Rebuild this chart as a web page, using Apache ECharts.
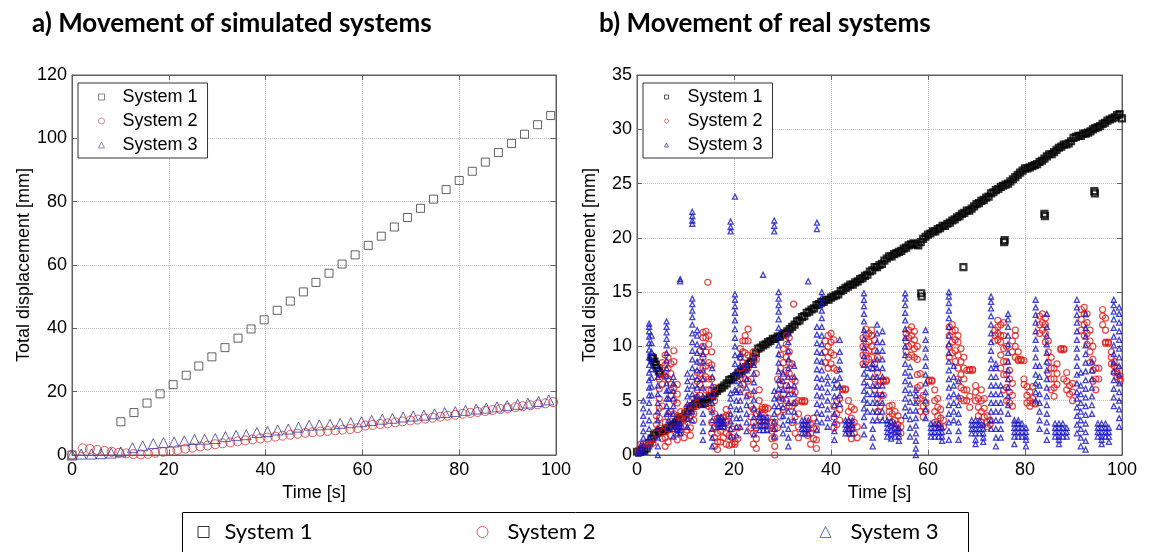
<!DOCTYPE html>
<html><head><meta charset="utf-8">
<script src="https://cdn.jsdelivr.net/npm/echarts@6/dist/echarts.min.js"></script>
<style>html,body{margin:0;padding:0;background:#fff}#c{width:1152px;height:552px}</style>
</head><body><div id="c"></div>
<script>
// ---------- Data: a) simulated systems ----------
const simX1 = [0, 10.1, 12.8, 15.5, 18.2, 20.9, 23.6, 26.2, 28.9, 31.6, 34.3, 37.0, 39.7, 42.4, 45.1, 47.8, 50.4, 53.1, 55.8, 58.5, 61.2, 63.9, 66.6, 69.3, 72.0, 74.7, 77.3, 80.0, 82.7, 85.4, 88.1, 90.8, 93.5, 96.2, 98.9];
const simY1 = [0, 10.5, 13.4, 16.4, 19.3, 22.2, 25.2, 28.1, 31.0, 33.9, 36.9, 39.8, 42.7, 45.7, 48.6, 51.5, 54.5, 57.4, 60.3, 63.2, 66.2, 69.1, 72.0, 75.0, 77.9, 80.8, 83.8, 86.7, 89.6, 92.5, 95.5, 98.4, 101.3, 104.3, 107.2];
const simX2 = [0, 2.2, 3.7, 5.2, 6.7, 8.2, 9.7, 11.2, 12.7, 14.2, 15.7, 17.2, 18.8, 20.3, 21.8, 23.4, 24.9, 26.5, 28.0, 29.6, 31.1, 32.7, 34.2, 35.8, 37.3, 38.9, 40.4, 42.0, 43.5, 45.1, 46.6, 48.2, 49.7, 51.3, 52.8, 54.4, 55.9, 57.5, 59.0, 60.6, 62.1, 63.7, 65.2, 66.8, 68.3, 69.9, 71.4, 73.0, 74.5, 76.1, 77.6, 79.2, 80.7, 82.3, 83.8, 85.4, 86.9, 88.5, 90.0, 91.6, 93.1, 94.7, 96.2, 97.8, 99.4];
const simY2 = [0, 2.1, 1.9, 1.6, 1.3, 1.0, 0.7, 0.5, 0.3, 0.2, 0.4, 0.7, 1.0, 1.3, 1.6, 2.0, 2.3, 2.7, 3.0, 3.4, 3.7, 4.0, 4.3, 4.6, 4.9, 5.2, 5.5, 5.8, 6.1, 6.4, 6.7, 7.0, 7.2, 7.4, 7.6, 7.8, 8.0, 8.2, 8.5, 9.3, 9.5, 9.8, 10.0, 10.3, 10.6, 10.9, 11.2, 11.5, 11.8, 12.1, 12.4, 12.7, 13.0, 13.3, 13.6, 13.9, 14.2, 14.5, 14.8, 15.1, 15.4, 15.7, 16.0, 16.3, 16.7];
const simX3 = [0, 1.9, 4.0, 6.0, 8.1, 10.1, 12.5, 14.6, 16.8, 18.9, 21.1, 23.2, 25.3, 27.4, 29.6, 31.7, 33.9, 36.0, 38.2, 40.4, 42.5, 44.7, 46.8, 49.0, 51.1, 53.3, 55.4, 57.6, 59.8, 61.9, 64.1, 66.2, 68.4, 70.5, 72.7, 74.9, 77.0, 79.2, 81.3, 83.5, 85.6, 87.8, 89.9, 92.1, 94.2, 96.4, 98.5];
const simY3 = [0, 0.3, 0.3, 0.4, 0.6, 1.0, 2.3, 2.9, 3.6, 3.9, 4.1, 4.5, 4.9, 5.0, 5.2, 5.8, 6.2, 6.4, 7.1, 7.4, 7.9, 8.2, 8.8, 9.4, 9.5, 9.7, 10.0, 10.2, 10.5, 10.9, 11.3, 11.6, 12.0, 12.3, 12.6, 13.0, 13.4, 13.7, 14.1, 14.5, 14.8, 15.2, 15.6, 16.0, 16.4, 16.9, 17.4];

// ---------- Data: b) real systems ----------
// System 1: one reading every 0.5 s from 0 s to 100 s
const realStep1 = 0.5;
const realY1 = [
0.3,0.3,0.4,0.4,0.6,1.1,1.5,1.8,2.0,2.1,2.2,2.2,2.4,2.5,2.7,2.8,3.0,3.2,3.4,3.5,
3.8,4.0,4.3,4.5,4.7,5.0,4.9,4.7,4.8,5.1,5.3,5.4,5.7,5.9,6.1,6.2,6.4,6.6,6.9,7.0,
7.2,7.3,7.6,7.7,7.9,8.1,8.4,8.6,9.0,9.4,9.8,9.9,10.1,10.2,10.4,10.5,10.7,10.7,10.9,10.9,
11.1,11.2,11.4,11.6,11.8,12.0,12.3,12.4,12.7,12.8,13.1,13.2,13.4,13.5,13.8,13.9,14.1,14.1,14.3,14.3,
14.5,14.6,14.7,14.8,15.1,15.2,15.4,15.5,15.7,15.7,15.9,16.0,16.2,16.3,16.5,16.6,16.9,17.0,17.3,17.3,
17.5,17.6,17.9,18.1,18.3,18.3,18.5,18.6,18.7,18.8,19.0,19.1,19.3,19.4,19.5,19.4,19.3,19.6,19.9,20.1,
20.3,20.4,20.6,20.6,20.8,20.9,21.1,21.1,21.3,21.4,21.6,21.7,21.9,22.0,22.2,22.3,22.5,22.5,22.7,22.9,
23.1,23.2,23.4,23.5,23.7,23.8,24.1,24.2,24.4,24.5,24.7,24.8,24.9,25.0,25.2,25.4,25.6,25.8,26.0,26.2,
26.4,26.4,26.5,26.6,26.7,26.8,27.0,27.1,27.3,27.5,27.7,27.7,27.9,28.1,28.3,28.4,28.6,28.6,28.7,28.9,
29.2,29.3,29.4,29.4,29.6,29.6,29.7,29.8,30.0,30.1,30.2,30.3,30.5,30.6,30.8,30.9,31.0,31.1,31.3,31.4,
31.0];
const realExtra1 = [[3.0,9.0],[3.3,8.9],[3.6,8.6],[3.9,8.3],[4.2,8.0],[4.5,7.7],[4.8,7.5],[58.6,14.9],[58.7,14.6],[67.3,17.3],[75.7,19.6],[75.8,19.8],[84.0,22.2],[84.1,22.0],[94.3,24.3],[94.4,24.1]];

// System 2: [time, readings...]
const realCols2 = [
[0.3,0.3,0.5],[0.8,1.0,0.6],[1.3,1.0],[1.8,1.0],[2.3,1.0,1.1],[2.8,1.0],[3.3,1.1,1.4],
[4.0,2.0,2.8,3.6],[4.6,2.5,3.4,4.3,5.2,6.1,7.0],[5.2,1.5,2.2,4.5,6.5,7.5,8.5],[5.8,0.8,1.6,3.0,7.2,8.3,9.2],
[6.4,1.2,2.4,3.5,7.0,8.0,9.0],[7.0,1.8,4.0,5.5,6.5,7.5,8.4],[7.6,2.6,3.8,5.0,6.2,8.6,9.6],[8.3,1.4,2.4,3.6,4.8,5.6,6.5],
[9.0,2.1,2.6,3.0,3.4,4.0],[9.7,1.6,2.6,3.2,3.8],[10.3,2.3,3.4,4.4],[11.0,1.8,2.5,3.6,4.0],[11.7,3.2,3.8,4.5,5.2],
[12.4,4.5,5.3,6.0,6.8,7.6],[13.0,5.5,6.5,7.5,8.5,9.6],[13.6,7.0,8.0,9.0,10.0,10.8,11.3],[14.2,6.0,7.2,8.2,9.5,10.8,11.4],
[14.6,15.9],[14.8,4.5,6.0,7.0,8.5,10.2,11.0],[15.4,2.0,3.0,4.2,5.5,7.0,8.3,9.5],[16.0,0.8,1.6,2.6,3.8,5.0,6.2],
[16.6,0.5,1.2,2.0,2.8,3.4],[17.2,1.2,2.2,3.4],[17.8,1.6,2.6,3.4,3.5],[18.4,1.0,2.0,3.0,3.6,4.2],[19.0,0.9,1.8,2.8,3.6],
[19.6,1.0,1.6,2.4],[20.2,1.2,1.0],[20.8,1.5,2.5],[21.3,6.0,7.0,8.0,9.0,9.8],[21.8,6.5,7.5,8.5,9.5,10.5],
[22.3,7.0,8.2,9.4,10.5,11.0],[22.9,5.5,6.8,8.0,9.2,10.5,11.6],[23.5,2.5,3.5,4.5,5.6,7.0],[24.0,1.0,2.0,3.0,4.2,8.5,9.5],
[24.6,0.6,1.5,2.5,3.8,7.5,8.8],[25.2,3.2,4.0,5.0,6.0],[25.8,3.8,4.2,4.4],[26.4,2.7,3.2,4.2,4.4],[27.0,2.4,3.4,4.3],
[27.8,1.5,2.2,3.0],[28.4,0.0,0.8,1.6,2.4,3.0],[29.0,2.5,4.0,5.5,7.0],[29.6,3.5,5.0,6.5,8.0,9.2],[30.2,4.2,5.6,7.2,8.5,9.8],
[30.8,5.0,6.4,7.8,9.0,10.2,11.0],[31.4,4.5,6.0,7.5,8.5,9.5,10.8],[32.0,3.0,4.5,6.0,7.0,8.4],[32.3,13.9],
[32.6,2.0,3.5,4.8,5.8,6.8],[33.3,1.6,2.6,3.8,5.0],[34.0,5.0,4.9],[34.6,5.0,4.9],[35.2,1.8,2.6,3.4],[35.8,1.0,2.0,2.8],
[36.4,1.5,2.5,3.4],[37.0,0.6,1.4,2.4],[38.8,8.5,9.5,10.5],[39.4,8.0,9.0,10.0,11.0],[40.0,8.4,9.4,10.4,11.2],
[40.6,2.5,3.5,4.5,8.0,9.2,10.6],[41.2,2.8,3.8,5.0,6.5,7.8],[41.8,3.2,4.2,5.2],[42.4,6.0,6.1],[43.0,6.0,6.1],
[43.6,2.2,3.0,4.0,5.0],[44.2,1.5,2.5,3.4,4.4],[44.8,2.0,3.0,4.2],[45.4,1.6,2.6],[46.6,8.4,9.2,10.0,10.8],
[47.2,8.6,9.4,10.2,11.0,11.6],[47.8,8.8,9.6,10.4,11.2],[48.4,8.0,9.0,10.0,11.0,11.5],[49.0,6.0,7.0,8.4,9.6,10.6],
[49.6,4.0,5.2,6.4,7.6,9.0],[50.2,3.5,4.5,5.5,6.8],[50.8,6.8,6.9,5.5],[51.4,6.8,6.9],[52.0,4.5,4.0,3.5],
[52.6,3.0,3.8,4.6],[53.2,2.4,3.2,4.0],[53.8,2.2,2.8,3.6],[54.4,2.0,2.6,3.2],[55.5,9.5,10.5,11.2],
[56.0,9.0,10.0,10.8,11.5],[56.6,9.2,10.2,11.0,11.8],[57.2,9.0,9.8,10.6,11.4],[57.8,5.0,6.2,7.4,8.8,10.0],
[58.4,4.0,5.2,6.4,7.5],[59.0,3.5,4.5,5.5],[59.6,4.0,4.8],[60.2,6.8,6.9],[60.8,6.8,6.9],[61.4,3.0,4.0,5.0,6.0],
[62.0,2.8,3.6,4.4,5.2],[62.6,2.6,3.4,4.2],[63.2,2.6,3.2],[64.4,9.0,10.0,11.0,11.8],[65.0,9.4,10.4,11.4,12.0],
[65.6,8.6,9.6,10.6,11.5],[66.2,7.0,8.0,9.2,10.4,11.0],[66.8,5.2,6.2,7.4,8.6,9.8],[67.4,5.0,6.0,7.0,8.0,9.0],
[68.0,5.0,6.0,7.8],[68.6,4.4,5.4,7.8,7.9],[69.2,7.8,7.9],[69.8,5.0,5.8,6.4],[70.4,3.6,4.4,5.2],[71.0,3.0,4.0,5.0,6.0],
[71.6,3.5,4.3,5.2],[72.2,2.6,3.0,3.6],[72.8,2.8,3.2],[73.8,10.5,11.0,11.5],[74.4,10.6,11.2,11.8,12.4],
[75.0,8.0,9.2,10.4,11.0,12.0],[75.6,6.0,7.4,8.6,9.8,11.0,12.2],[76.2,5.0,6.2,7.4,8.6,10.0],[76.8,4.8,5.8,7.0,7.8],
[77.4,4.5,5.5,6.6,9.5,10.5],[78.0,9.0,10.0,11.0,11.5],[78.6,8.7,8.8,9.5],[79.2,8.7,8.8],[79.8,8.7,6.5,7.0],
[80.4,4.8,5.5,6.3],[81.0,4.5,5.0,5.8],[81.6,4.8,5.2,6.3],[82.2,4.7],[83.0,11.2,12.0,12.8],[83.6,11.5,12.2,13.0],
[84.2,10.4,11.2,12.0,12.6],[84.8,7.5,8.5,9.5,10.5],[85.4,6.0,7.0,8.0,9.0],[86.0,5.4,6.2,7.0,8.0],[86.6,6.5,7.5,8.4],
[87.4,9.7,9.8],[88.0,9.7,9.8,7.0],[88.6,6.0,6.8,7.6],[89.2,5.6,6.4],[89.8,5.0,5.8,6.6],[91.6,11.5,12.5,13.4],
[92.2,11.0,12.0,13.0,13.6],[92.8,10.2,11.2,12.2,13.0],[93.4,8.5,9.5,10.5,11.5],[94.0,6.8,7.8,8.8,10.0],
[94.6,6.0,7.0,8.0],[95.2,7.0,8.0],[96.0,12.0,12.8,13.4],[96.6,10.3,10.4,11.5,12.6],[97.2,10.3,10.4],
[97.8,8.4,9.0,9.5],[98.4,7.6,8.2,8.6],[99.0,7.2,7.6,8.0],[99.6,6.8,7.0,7.3]
];

// System 3: [time, readings...]
const realCols3 = [
[0.3,0.1,0.4],[0.8,0.2,0.6,0.9],[1.3,0.3,0.9,1.6,2.2,2.9,3.6,4.3,5.0],
[2.5,0.8,1.6,2.4,3.2,4.0,4.8,5.5,6.2,6.9,7.6,8.3,9.0,9.7,10.3,10.9,11.4,11.8,12.1],
[3.0,5.5,6.3,7.1,7.9,8.7,9.5,10.3,11.0],[4.3,0.0,0.8,1.6,2.4,3.2,4.0,4.8,5.6,6.4,7.2,8.0],
[6.1,3.8,4.5,5.2,5.9,6.6,7.3,8.0,8.7,9.4,10.1,10.7,11.3,11.8,12.3],[6.5,2.5,3.2,4.0,5.2,6.0],
[7.5,1.7,2.4,3.1,3.8,4.5,5.2,5.9,6.6,7.2],[8.3,2.0,2.3,2.6,2.9],[8.9,2.0,2.3,2.6,2.9,16.0,16.2],
[10.4,2.6,3.3,4.0,4.7,5.4,6.1,6.8,7.5],
[11.4,3.2,4.0,4.8,5.6,6.4,7.2,8.0,8.8,9.6,10.4,11.2,12.0,12.7,13.3,13.9,14.4,21.3,21.6,22.0,22.4],
[12.4,5.4,6.2,7.0,7.8,8.6,9.4,10.2,11.0,11.5],[13.6,1.4,2.2,3.0,3.8,4.6,5.4,6.2,7.0,7.8,8.6,9.3,10.0],
[15.5,0.8,1.6,2.4,3.2,4.0,4.8,5.6,6.4,7.2,8.0],[16.7,2.6,2.9,3.2,3.5],[17.3,2.6,2.9,3.2,3.5],[17.9,2.6,2.9,3.2],
[19.3,1.7,2.4,3.1,3.8,4.5,5.2,5.7,20.6,21.0,21.5],
[20.2,6.0,6.8,7.6,8.4,9.2,10.0,10.8,11.6,12.4,13.1,13.7,14.3,14.8,23.8],[20.5,1.8,2.6,3.4,4.2,5.0,5.8],
[21.3,2.6,3.4,4.2,5.0,5.8,6.6,7.4,8.2,9.0,9.3],[22.6,2.2,3.0,3.8,4.6,5.4,6.2,7.0,7.8,8.4],
[24.1,1.9,2.7,3.5,4.3,5.1,5.9,6.7,7.5,8.3,9.0],[25.3,2.3,2.7,3.1,3.5,3.8],[26.0,2.3,2.7,3.1,3.5,16.6],
[26.8,2.3,2.7,3.1,3.5],[28.3,1.7,2.4,3.1,3.8,4.5,5.2,5.9,20.6,21.1,21.6],
[29.2,4.5,5.3,6.1,6.9,7.7,8.5,9.3,10.1,10.9,11.7,12.5,13.2,13.8,14.4,15.0],[30.1,2.0,2.8,3.6,4.4,5.2,6.0,6.8,7.5],
[31.2,0.8,1.6,2.4,3.2,4.0,4.8,5.6,6.4,7.2,8.0,8.8,9.6,10.4,11.2],[32.4,3.2,4.0,4.8,5.6,6.4,7.2,8.2],
[34.0,2.0,2.4,2.8,3.2],[34.6,2.0,2.4,2.8,3.2],[35.3,2.0,2.4,2.8,3.2,16.0],
[37.1,2.3,3.1,3.9,4.7,5.5,6.3,7.1,7.9,8.7,9.5,10.3,11.1,11.8,20.8,21.4],
[38.1,3.0,3.8,4.6,5.4,6.2,7.0,7.8,8.6,9.4,10.2,11.0,11.8,12.6,13.3,13.9,14.5,15.0],
[39.3,2.6,3.4,4.2,5.0,5.8,6.6,7.2],[40.7,1.4,2.2,3.0,3.8,4.6,5.4,6.2,6.9],[41.8,4.7,5.5,6.3,7.1,7.9,8.7,9.5,10.6],
[43.0,2.0,2.4,2.8,3.2],[43.7,2.0,2.4,2.8,3.2],[44.4,2.0,2.4,2.8,3.2],
[46.8,1.9,2.7,3.5,4.3,5.1,5.9,6.7,7.5,8.3,9.1,9.9,10.7,11.5,12.3,13.0,13.7,14.3,14.9],
[47.5,4.0,4.8,5.6,6.4,7.2,8.0],[48.6,0.8,1.6,2.4,3.2,4.0,4.8,5.6,6.4,7.2,8.0,8.4],
[49.5,3.2,4.0,4.8,5.6,6.4,7.2,8.0,8.8,9.6,10.4,11.2,12.0],[50.6,3.2,4.0,4.8,5.6,6.4,7.2,8.0,8.8,9.6,10.4,11.4],
[51.6,1.7,2.1,2.5,2.9,3.2],[52.4,1.5,1.9,2.3,2.7,3.1],[53.2,1.7,2.1,2.5,2.9],[54.0,1.3,1.7,2.1,2.5],
[55.3,3.6,4.4,5.2,6.0,6.8,7.6,8.4,9.2,10.0,10.8,11.6,12.4,13.1,13.8,14.4,14.9],
[56.3,1.7,2.5,3.3,4.1,4.9,5.7,6.5,7.3,8.1],[57.5,0.0,0.6,1.3,2.0,2.7,3.4,4.1,4.8,5.5,6.0],
[59.5,3.4,4.2,5.0,5.8,6.6,7.4,8.2,9.0,9.8,10.6,11.5],[60.6,1.7,2.1,2.5,2.9],[61.4,1.7,2.1,2.5,2.9],
[62.2,1.7,2.1,2.5,2.9],[62.9,1.3,1.7,2.1,2.5],
[64.3,1.4,2.2,3.0,3.8,4.6,5.4,6.2,7.0,7.8,8.6,9.4,10.2,11.0,11.8,12.6,13.3,14.0,14.6,15.0],
[65.3,3.2,4.0,4.8,5.6,6.4,7.2,8.2],[66.3,1.4,2.2,3.0,3.8,4.6,5.4,6.8],[69.0,2.0,2.4,2.8,3.2],
[69.8,1.0,1.4,2.0,2.4,2.8,3.2],[70.6,2.0,2.4,2.8,3.2],[71.4,1.2,1.6,2.0,2.4,2.8],
[73.0,2.4,3.2,4.0,4.8,5.6,6.4,7.2,8.0,8.8,9.6,10.4,11.2,12.0,12.8,13.5,14.1,14.6],
[74.0,0.8,1.6,2.4,3.2,4.0,4.8,5.6,6.4,7.2,8.0,8.4],[75.0,1.6,2.4,3.2,4.0,4.8,5.6,6.4],
[76.5,3.8,4.6,5.4,6.2,7.0,7.8,8.6,9.4,10.2,11.0,11.8,12.5,13.0],[77.8,1.0,1.7,2.1,2.5,2.9,3.2],
[78.6,1.7,2.1,2.5,2.9,3.2],[79.4,1.7,2.1,2.5,2.9],[80.2,0.8,1.4,1.7,2.1,2.5],
[82.2,5.0,5.8,6.6,7.4,8.2,9.0,9.8,10.6,11.4,12.2,12.9,13.6,14.3],[83.0,2.4,3.2,4.0,4.8,5.6,6.4,7.2,8.2],
[84.5,1.4,2.2,3.0,3.8,4.6,5.4,6.2,7.0,7.8,8.6,9.4,10.2,11.0,11.8,13.0],[86.2,1.7,2.1,2.5,2.9],
[87.0,1.0,1.4,1.7,2.1,2.5,2.9],[87.8,1.7,2.1,2.5,2.9],[88.6,1.7,2.1,2.5],
[90.7,2.0,2.8,3.6,4.4,5.2,5.8,6.6,7.4,8.2,9.0,9.8,10.6,11.4,12.2,12.9,13.6,14.3],
[91.5,0.8,1.6,2.4,3.2,4.0,4.8,5.6,6.4,7.6],
[92.5,0.5,1.3,2.1,2.9,3.7,4.5,5.3,6.1,6.9,7.7,8.5,9.3,10.1,10.9,11.7,13.0],[93.8,3.8,4.6,5.4,6.2,7.0,7.8,8.6],
[95.0,1.7,2.1,2.5,2.9],[95.8,1.0,1.4,1.7,2.1,2.5,2.9],[96.6,1.7,2.1,2.5,2.9],[97.3,1.2,1.7,2.1,2.5],
[98.3,4.5,5.3,6.1,6.9,7.7,8.5,9.3,10.1,10.9,11.7,12.5,13.2,13.8,14.3],
[99.4,2.6,3.4,4.2,5.0,5.8,6.6,7.4,8.2,9.0,9.8,10.6,11.4,12.2,13.0,13.6]
];

// ---------- Text ----------
const titleA = 'a) Movement of simulated systems';
const titleB = 'b) Movement of real systems';
const xName = 'Time [s]';
const yName = 'Total displacement [mm]';
const legendNames = {a1: 'System 1', a2: 'System 2', a3: 'System 3', b1: 'System 1', b2: 'System 2', b3: 'System 3'};

// ---------- Build ----------
const zip = (xs, ys) => xs.map((x, i) => [x, ys[i]]);
const fromCols = cols => { const out = []; cols.forEach(c => { for (let i = 1; i < c.length; i++) out.push([c[0], c[i]]); }); return out; };
const realData1 = realY1.map((y, i) => [i * realStep1, y]).concat(realExtra1);

const AF = '"Liberation Sans", Arial, sans-serif';
const LF = 'Lato, "Open Sans", sans-serif';
const AXC = '#606060';

function mainX(grid) {
  return {gridIndex: grid, type: 'value', min: 0, max: 100, interval: 20, position: 'bottom',
    axisLine: {show: true, onZero: false, lineStyle: {color: AXC}},
    axisTick: {show: true, inside: true, length: 5, lineStyle: {color: AXC}},
    axisLabel: {color: '#000', fontSize: 18, fontFamily: AF, margin: 6},
    splitLine: {show: true, lineStyle: {color: '#bdbdbd', type: 'dotted', width: 1}},
    name: xName, nameLocation: 'middle', nameGap: 27,
    nameTextStyle: {color: '#000', fontSize: 18, fontFamily: AF}};
}
function topX(grid) {
  return {gridIndex: grid, type: 'value', min: 0, max: 100, interval: 20, position: 'top',
    axisLine: {show: true, onZero: false, lineStyle: {color: AXC}},
    axisTick: {show: true, inside: true, length: 5, lineStyle: {color: AXC}},
    axisLabel: {show: false}, splitLine: {show: false}};
}
function mainY(grid, max, interval) {
  return {gridIndex: grid, type: 'value', min: 0, max: max, interval: interval, position: 'left',
    axisLine: {show: true, onZero: false, lineStyle: {color: AXC}},
    axisTick: {show: true, inside: true, length: 5, lineStyle: {color: AXC}},
    axisLabel: {color: '#000', fontSize: 18, fontFamily: AF, margin: 5},
    splitLine: {show: true, lineStyle: {color: '#bdbdbd', type: 'dotted', width: 1}},
    name: yName, nameLocation: 'middle', nameGap: 38, nameRotate: 90,
    nameTextStyle: {color: '#000', fontSize: 18, fontFamily: AF}};
}
function rightY(grid, max, interval) {
  return {gridIndex: grid, type: 'value', min: 0, max: max, interval: interval, position: 'right',
    axisLine: {show: true, onZero: false, lineStyle: {color: AXC}},
    axisTick: {show: true, inside: true, length: 5, lineStyle: {color: AXC}},
    axisLabel: {show: false}, splitLine: {show: false}};
}

const hollow = (c, w) => ({color: 'rgba(0,0,0,0)', borderColor: c, borderWidth: w || 1});
const fmt = n => legendNames[n];

const innerLegend = (left, names, icons, size, padL, textPad) => ({
  orient: 'vertical', left: left, top: 83, selectedMode: false,
  data: names.map((n, i) => ({name: n, icon: icons[i].icon, itemStyle: hollow(icons[i].color)})),
  itemWidth: size, itemHeight: size, itemGap: 4, padding: [4, 10, 3, padL],
  borderColor: '#333', borderWidth: 1, backgroundColor: '#fff',
  textStyle: {color: '#000', fontSize: 18, fontFamily: AF, lineHeight: 20, padding: [0, 0, 0, textPad]},
  formatter: fmt
});
const bottomLegend = (left, name, icon, color, textPad) => ({
  orient: 'horizontal', left: left, top: 519, selectedMode: false, padding: 0,
  data: [{name: name, icon: icon, itemStyle: hollow(color)}],
  itemWidth: 11, itemHeight: 11,
  textStyle: {color: '#000', fontSize: 22, fontFamily: LF, lineHeight: 26, padding: [0, 0, 0, textPad]},
  formatter: fmt
});

const option = {
  animation: false,
  backgroundColor: '#fff',
  title: [
    {text: titleA, left: 27, top: 6, textStyle: {fontFamily: LF, fontWeight: 'bold', fontSize: 26, color: '#000'}},
    {text: titleB, left: 594, top: 6, textStyle: {fontFamily: LF, fontWeight: 'bold', fontSize: 26, color: '#000'}}
  ],
  grid: [
    {left: 72, top: 75, width: 484, height: 380, show: true, borderColor: AXC, borderWidth: 1, backgroundColor: '#fff'},
    {left: 637, top: 75, width: 485, height: 380, show: true, borderColor: AXC, borderWidth: 1, backgroundColor: '#fff'}
  ],
  xAxis: [mainX(0), topX(0), mainX(1), topX(1)],
  yAxis: [mainY(0, 120, 20), rightY(0, 120, 20), mainY(1, 35, 5), rightY(1, 35, 5)],
  legend: [
    innerLegend(78, ['a1', 'a2', 'a3'], [{icon: 'rect', color: '#666'}, {icon: 'circle', color: '#c07080'}, {icon: 'triangle', color: '#6a6aaa'}], 6, 20, 13),
    innerLegend(643, ['b1', 'b2', 'b3'], [{icon: 'rect', color: '#333'}, {icon: 'circle', color: '#d06060'}, {icon: 'triangle', color: '#4040b0'}], 4, 21, 14),
    bottomLegend(197.5, 'a1', 'rect', '#000', 10.5),
    bottomLegend(476.5, 'a2', 'circle', '#e03030', 14.5),
    bottomLegend(819.5, 'a3', 'triangle', '#3050c0', 14.5)
  ],
  graphic: [
    {type: 'rect', shape: {x: 182.5, y: 512.5, width: 786, height: 60}, style: {fill: 'none', stroke: '#000', lineWidth: 1}, silent: true}
  ],
  series: [
    {name: 'a1', type: 'scatter', xAxisIndex: 0, yAxisIndex: 0, data: zip(simX1, simY1), symbol: 'rect', symbolSize: 8, itemStyle: hollow('#3c3c3c'), emphasis: {disabled: true}},
    {name: 'a2', type: 'scatter', xAxisIndex: 0, yAxisIndex: 0, data: zip(simX2, simY2), symbol: 'circle', symbolSize: 9, itemStyle: hollow('#d83030'), emphasis: {disabled: true}},
    {name: 'a3', type: 'scatter', xAxisIndex: 0, yAxisIndex: 0, data: zip(simX3, simY3), symbol: 'triangle', symbolSize: 10, itemStyle: hollow('#38389a'), emphasis: {disabled: true}},
    {name: 'b1', type: 'scatter', xAxisIndex: 2, yAxisIndex: 2, data: realData1, symbol: 'rect', symbolSize: 6, itemStyle: hollow('#000', 2.2), emphasis: {disabled: true}},
    {name: 'b2', type: 'scatter', xAxisIndex: 2, yAxisIndex: 2, data: fromCols(realCols2), symbol: 'circle', symbolSize: 6, itemStyle: hollow('#e01a16', 1.2), emphasis: {disabled: true}},
    {name: 'b3', type: 'scatter', xAxisIndex: 2, yAxisIndex: 2, data: fromCols(realCols3), symbol: 'triangle', symbolSize: 5, itemStyle: hollow('#1414c8', 1.3), emphasis: {disabled: true}}
  ]
};
echarts.init(document.getElementById('c'), null, {renderer: 'canvas'}).setOption(option);
</script></body></html>
